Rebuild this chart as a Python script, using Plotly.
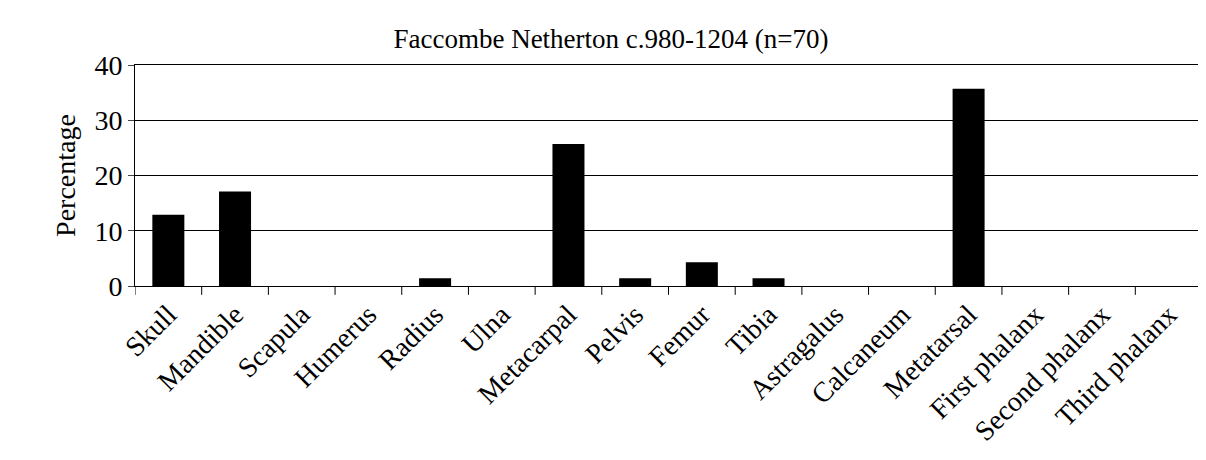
import plotly.graph_objects as go

categories = ["Skull","Mandible","Scapula","Humerus","Radius","Ulna","Metacarpal","Pelvis",
              "Femur","Tibia","Astragalus","Calcaneum","Metatarsal","First phalanx",
              "Second phalanx","Third phalanx"]
values = [12.9,17.1,0,0,1.4,0,25.7,1.4,4.3,1.4,0,0,35.7,0,0,0]

F = "Liberation Serif, Times New Roman, serif"
fig = go.Figure(go.Bar(x=list(range(len(categories))), y=values, marker=dict(color="black", line=dict(width=0)), width=0.48))
fig.update_layout(
    width=1206, height=460, margin=dict(l=127, r=12, t=57, b=182),
    plot_bgcolor="white", paper_bgcolor="white", showlegend=False,
    title=dict(text="Faccombe Netherton c.980-1204 (n=70)", x=0.5, xanchor="center", y=0.955, font=dict(family=F, size=27, color="black")),
    font=dict(family=F, color="black"),
)
fig.update_xaxes(tickmode="array", tickvals=list(range(len(categories))), ticktext=categories,
                 tickangle=-45, tickfont=dict(size=28), range=[-0.5, 15.5], automargin=False,
                 showline=True, linecolor="black", mirror=True, showgrid=False,
                 ticks="", zeroline=False)
for i in range(17):
    fig.add_shape(type="line", xref="x", yref="paper", x0=i-0.5, x1=i-0.5, y0=0, y1=-0.04, line=dict(color="black", width=1))
fig.update_yaxes(range=[0, 40], dtick=10, tickfont=dict(size=28), showline=True, linecolor="black", automargin=False,
                 mirror=True, showgrid=True, gridcolor="black", gridwidth=1, ticks="outside", ticklen=6,
                 title=dict(text="Percentage", font=dict(size=28), standoff=10), zeroline=False)
fig.write_html("out.html")
